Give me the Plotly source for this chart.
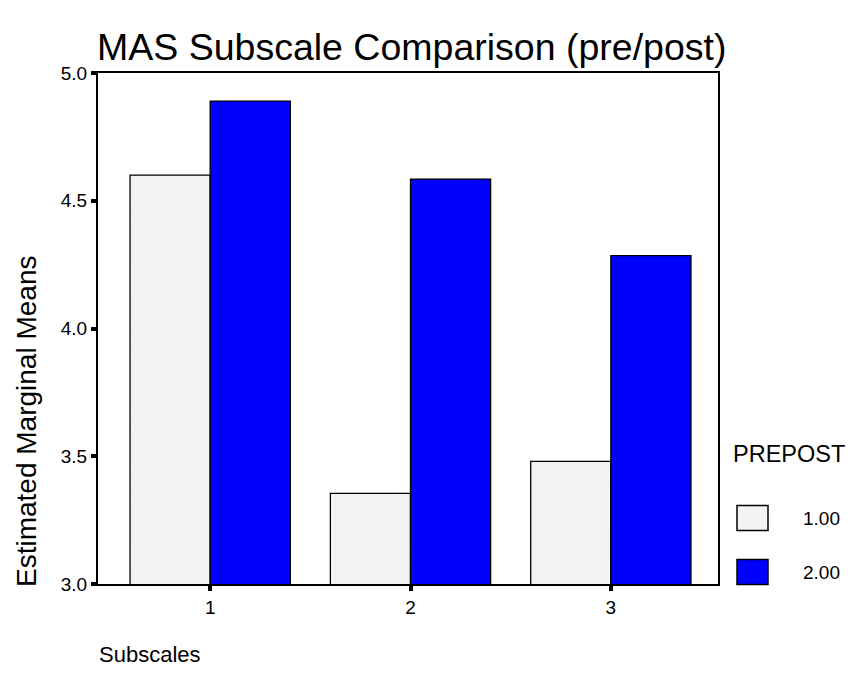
import plotly.graph_objects as go

categories = [1, 2, 3]
pre_values = [4.60, 3.355, 3.48]
post_values = [4.89, 4.585, 4.285]
series_names = ["1.00", "2.00"]
series_colors = ["#f3f3f3", "#0000ff"]
y_ticks = [3.0, 3.5, 4.0, 4.5, 5.0]
y_tick_labels = ["3.0", "3.5", "4.0", "4.5", "5.0"]

# page body adds 8px offset; plot area in screen px: x 98..718, y 73..584
OFF = 8
W, H = 854 - OFF, 683 - OFF
PX0, PX1, PY0, PY1 = 98, 718, 73, 584
PW, PH = PX1 - PX0, PY1 - PY0


def px(X):
    return (X - PX0) / PW


def py(Y):
    return (PY1 - Y) / PH


fig = go.Figure()
fig.add_trace(go.Bar(
    x=categories, y=pre_values, name=series_names[0], showlegend=False,
    marker=dict(color=series_colors[0], line=dict(color="black", width=1.3),
                pattern=dict(shape="/", fgcolor="#dadada", size=3, solidity=0.15)),
))
fig.add_trace(go.Bar(
    x=categories, y=post_values, name=series_names[1], showlegend=False,
    marker=dict(color=series_colors[1], line=dict(color="black", width=1.3)),
))

shapes = []
annotations = [
    dict(text="Subscales", xref="paper", yref="paper", x=px(97), xanchor="left",
         y=py(654), yanchor="middle", showarrow=False, font=dict(size=22)),
    dict(text="Estimated Marginal Means", xref="paper", yref="paper",
         x=px(26), xanchor="center", y=py(422), yanchor="middle",
         textangle=-90, showarrow=False, font=dict(size=28)),
    dict(text="PREPOST", xref="paper", yref="paper", x=px(731), xanchor="left",
         y=py(454), yanchor="middle", showarrow=False, font=dict(size=23.5)),
]
legend_rows = [518, 572]
for i, name in enumerate(series_names):
    yc = legend_rows[i]
    shapes.append(dict(type="rect", xref="paper", yref="paper",
                       x0=px(737), x1=px(768), y0=py(yc - 12.5), y1=py(yc + 12.5),
                       fillcolor=series_colors[i], line=dict(color="black", width=1.5)))
    annotations.append(dict(text=name, xref="paper", yref="paper", x=px(801),
                            xanchor="left", y=py(yc), yanchor="middle",
                            showarrow=False, font=dict(size=19)))

fig.update_layout(
    width=W, height=H,
    paper_bgcolor="white", plot_bgcolor="white",
    margin=dict(l=PX0 - OFF, r=W - (PX1 - OFF), t=PY0 - OFF, b=H - (PY1 - OFF)),
    barmode="group", bargap=0.2, bargroupgap=0,
    font=dict(family="Arial, Liberation Sans, sans-serif", color="black", size=19),
    title=dict(text="MAS Subscale Comparison (pre/post)", x=(97 - OFF) / W, xanchor="left",
               y=1 - (47 - OFF) / H, yanchor="middle", font=dict(size=37.5)),
    xaxis=dict(range=[0.44, 3.535], tickvals=categories, ticks="outside", ticklen=5,
               tickwidth=4, tickcolor="black", showline=True, linecolor="black",
               linewidth=2, mirror=True, showgrid=False, zeroline=False),
    yaxis=dict(range=[3.0, 5.0], tickvals=y_ticks, ticktext=y_tick_labels,
               ticks="outside", ticklen=5, tickwidth=4, tickcolor="black",
               showline=True, linecolor="black", linewidth=2, mirror=True,
               showgrid=False, zeroline=False),
    shapes=shapes,
    annotations=annotations,
)

fig.write_html("out.html")
